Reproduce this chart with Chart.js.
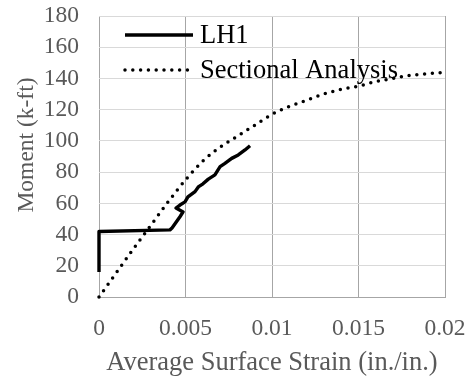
<!DOCTYPE html>
<html>
<head>
<meta charset="utf-8">
<script src="https://cdn.jsdelivr.net/npm/chart.js@4/dist/chart.umd.min.js"></script>
<style>
  html, body { margin: 0; padding: 0; background: #fff; }
  #wrap { width: 470px; height: 383px; }
</style>
</head>
<body>
<div id="wrap"><canvas id="momentChart" width="470" height="383"></canvas></div>
<script>
// LH1 measured curve
var lh1Strain = [0, 0, 0.0041, 0.00422, 0.00468, 0.00486, 0.00445, 0.00468, 0.00497, 0.00514, 0.00555,
    0.00574, 0.00601, 0.00632, 0.0067, 0.0070, 0.00728, 0.00767, 0.00805, 0.00844, 0.00873];
var lh1Moment = [16, 42, 43, 44.2, 51.4, 54.5, 57.0, 58.9, 60.9, 64.1, 67.5,
    70.5, 72.5, 75.5, 78.2, 83.5, 85.6, 88.8, 91, 94.2, 96.9];

// sectional analysis prediction
var saStrain = [0, 0.001, 0.002, 0.003, 0.004, 0.005, 0.006, 0.007, 0.008, 0.009, 0.010,
    0.011, 0.012, 0.013, 0.014, 0.015, 0.016, 0.017, 0.018, 0.019, 0.020];
var saMoment = [0, 15.5, 31, 46, 61, 75, 87, 96, 103, 110, 117,
    122, 126, 130, 133, 135, 138, 140, 142, 143, 144];

var xTickLabels = ["0", "0.005", "0.01", "0.015", "0.02"];
var yTickLabels = ["0", "20", "40", "60", "80", "100", "120", "140", "160", "180"];
var yTitle = "Moment (k-ft)";

toPoints = (xs, ys) => {
    let pts = [];
    for (var i = 0; i < xs.length; i++) {
        pts.push({ x: xs[i], y: ys[i] });
    }
    return pts;
};

var serif = "'Liberation Serif', 'Times New Roman', serif";
var grey = "#595959";

// legend drawn inside the plot area, top-left, plus the y axis title
var extras = {
    id: 'extras',
    afterDraw: (chart) => {
        var ctx = chart.ctx;
        var rows = [35, 70];
        ctx.save();
        chart.data.datasets.forEach((ds, i) => {
            ctx.beginPath();
            ctx.strokeStyle = ds.borderColor;
            ctx.lineWidth = ds.borderWidth;
            ctx.lineCap = ds.borderCapStyle || 'butt';
            ctx.setLineDash(ds.borderDash || []);
            ctx.moveTo(125, rows[i]);
            ctx.lineTo(193, rows[i]);
            ctx.stroke();
            ctx.setLineDash([]);
            ctx.fillStyle = "#000";
            ctx.font = "26.5px " + serif;
            ctx.textBaseline = "middle";
            ctx.textAlign = "left";
            ctx.fillText(ds.label, 200, rows[i] + 1);
        });
        // y title
        ctx.translate(27, 145);
        ctx.rotate(-Math.PI / 2);
        ctx.fillStyle = grey;
        ctx.font = "23.5px " + serif;
        ctx.textAlign = "center";
        ctx.textBaseline = "middle";
        ctx.fillText(yTitle, 0, 0);
        ctx.restore();
    }
};

var ctx = document.getElementById("momentChart").getContext('2d');
var chart = new Chart(ctx, {
    type: 'scatter',
    data: {
        datasets: [{
            label: "LH1",
            data: toPoints(lh1Strain, lh1Moment),
            showLine: true,
            borderColor: "#000",
            borderWidth: 3.4,
            borderJoinStyle: 'round',
            pointRadius: 0,
            clip: 6,
            tension: 0
        }, {
            label: "Sectional Analysis",
            data: toPoints(saStrain, saMoment),
            showLine: true,
            borderColor: "#000",
            borderWidth: 3.5,
            borderDash: [0, 7.8],
            borderCapStyle: 'round',
            pointRadius: 0,
            clip: 6,
            cubicInterpolationMode: 'monotone'
        }]
    },
    options: {
        responsive: false,
        animation: false,
        layout: { padding: { top: 16, right: 25, left: 0, bottom: 0 } },
        plugins: {
            legend: { display: false },
            tooltip: { enabled: false }
        },
        scales: {
            x: {
                type: 'linear',
                min: 0,
                max: 0.02,
                afterFit: (scale) => {
                    scale.height = 86;
                    scale.paddingLeft = 0;
                    scale.paddingRight = 0;
                },
                ticks: {
                    stepSize: 0.005,
                    padding: 18,
                    color: grey,
                    autoSkip: false,
                    font: { family: serif, size: 23.5 },
                    maxRotation: 0,
                    callback: (v) => xTickLabels[Math.round(v / 0.005)]
                },
                grid: { color: "#a6a6a6", drawTicks: false },
                border: { color: "#a6a6a6" },
                title: {
                    display: true,
                    text: "Average Surface Strain (in./in.)",
                    color: grey,
                    font: { family: serif, size: 26.5 },
                    padding: { top: 2 }
                }
            },
            y: {
                min: 0,
                max: 180,
                afterFit: (scale) => {
                    scale.width = 99;
                    scale.paddingTop = 0;
                    scale.paddingBottom = 0;
                },
                ticks: {
                    stepSize: 20,
                    padding: 20,
                    color: grey,
                    autoSkip: false,
                    font: { family: serif, size: 23.5 },
                    callback: (v) => yTickLabels[Math.round(v / 20)]
                },
                grid: { color: "#d9d9d9", drawTicks: false },
                border: { display: false }
            }
        }
    },
    plugins: [extras]
});
</script>
</body>
</html>
